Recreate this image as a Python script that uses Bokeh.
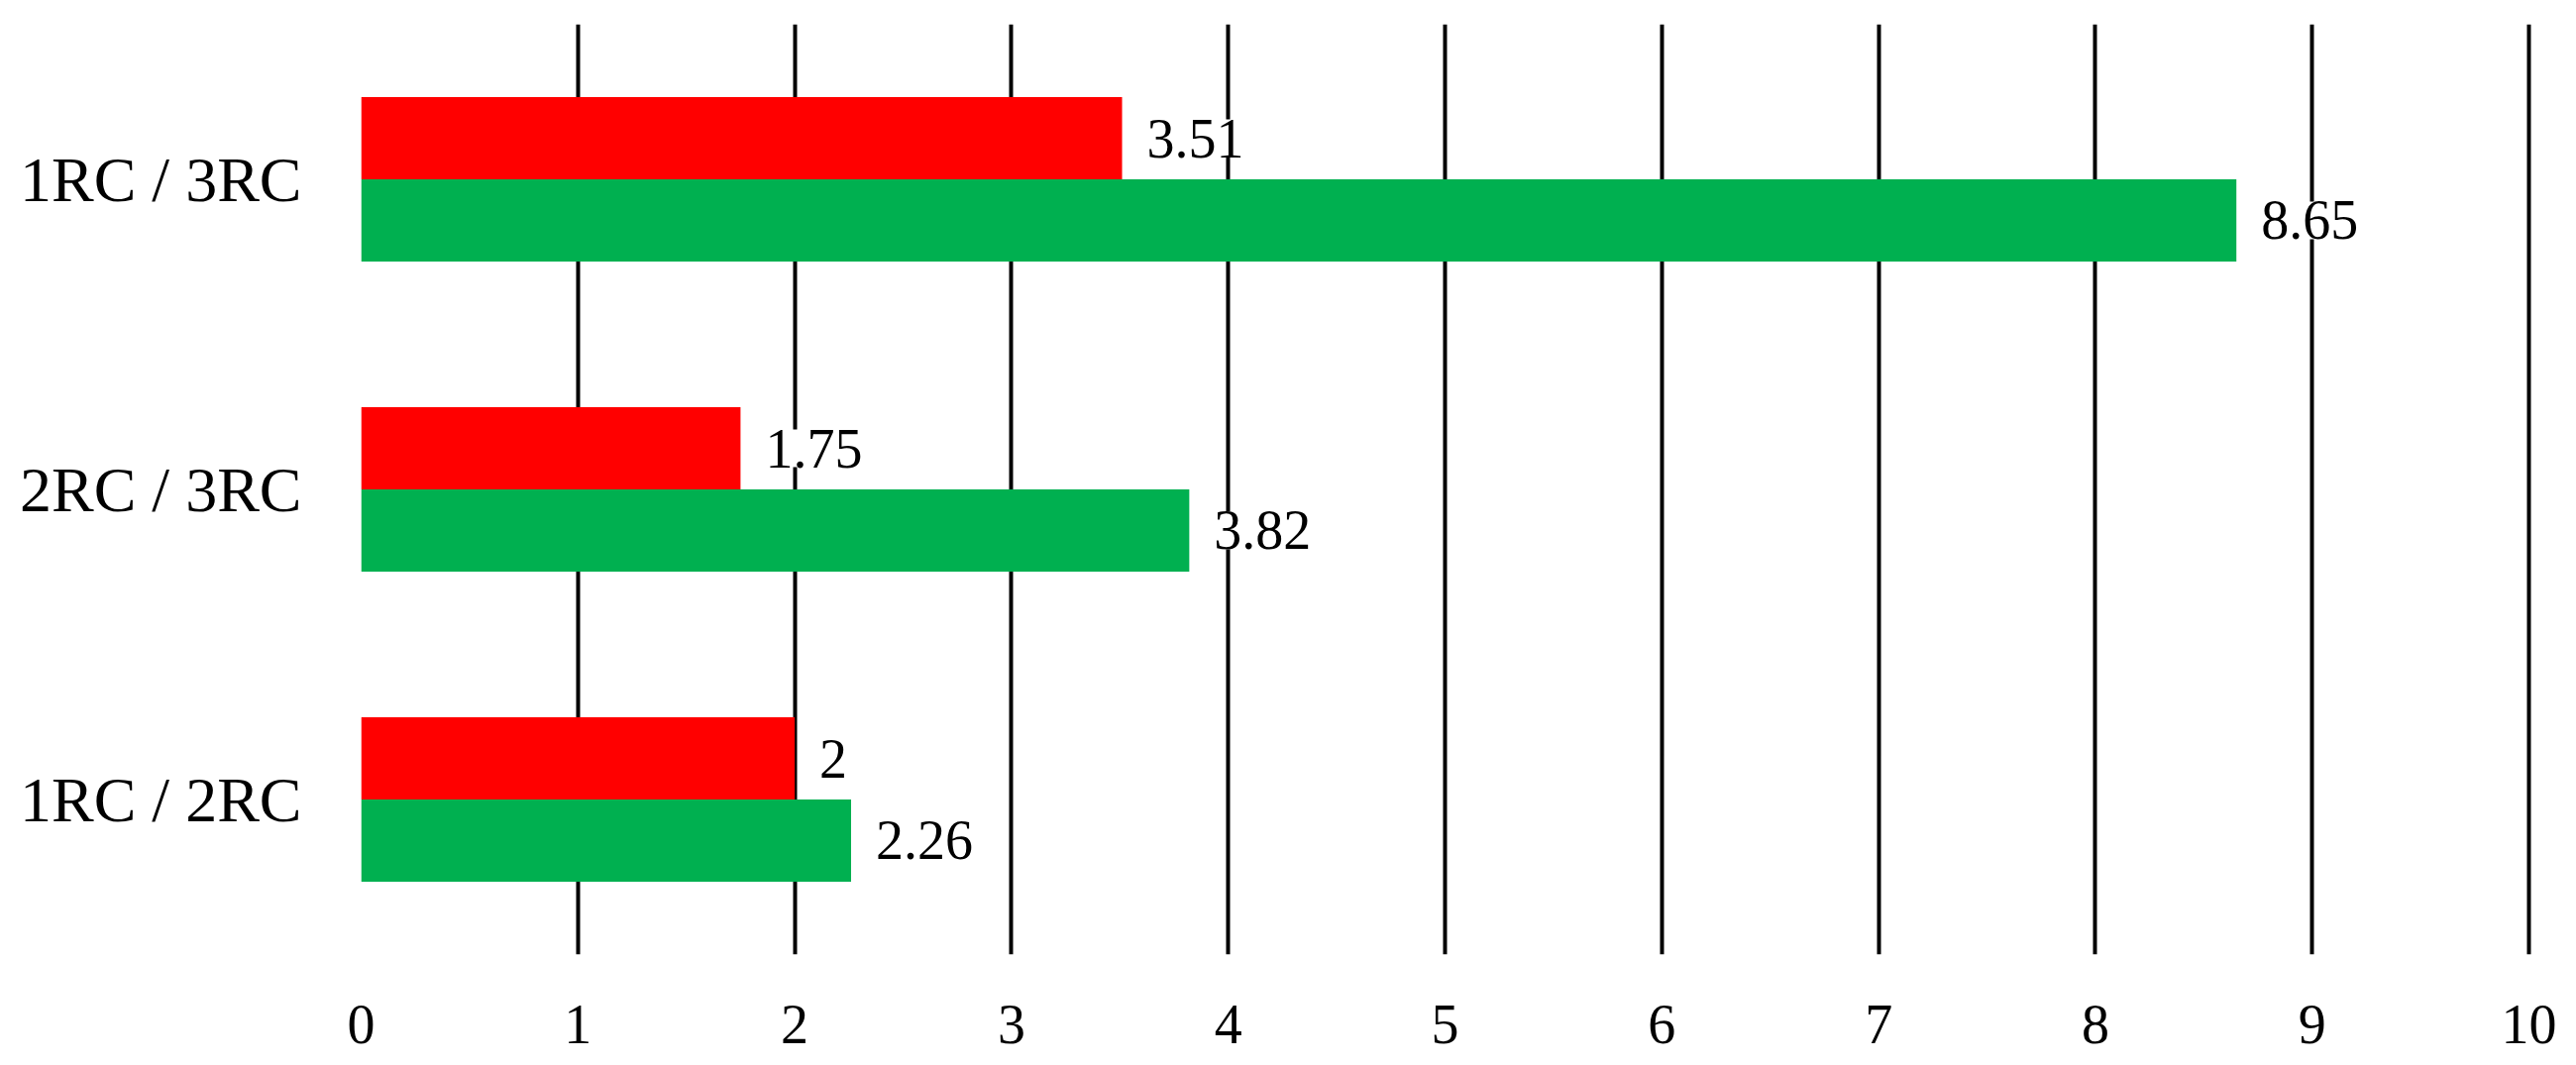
from bokeh.plotting import figure
from bokeh.models import FactorRange, Range1d, ColumnDataSource, LabelSet, FixedTicker
from bokeh.transform import dodge
from bokeh.embed import file_html
from bokeh.resources import INLINE

categories = ["1RC / 2RC", "2RC / 3RC", "1RC / 3RC"]
red_values = [2, 1.75, 3.51]
green_values = [2.26, 3.82, 8.65]
red_labels = ["2", "1.75", "3.51"]
green_labels = ["2.26", "3.82", "8.65"]
x_ticks = [0, 1, 2, 3, 4, 5, 6, 7, 8, 9, 10]

RED = "#FF0000"
GREEN = "#00B050"
FONT = "Liberation Serif"

src_red = ColumnDataSource(dict(cat=categories, val=red_values, lab=red_labels))
src_green = ColumnDataSource(dict(cat=categories, val=green_values, lab=green_labels))

p = figure(
    width=2584, height=1074,
    y_range=FactorRange(*categories, range_padding=0),
    x_range=Range1d(0, 10.1),
    output_backend="svg", toolbar_location=None,
    min_border_left=364, min_border_right=10,
    min_border_top=24, min_border_bottom=111,
)
p.outline_line_color = None
p.background_fill_color = "white"
p.border_fill_color = "white"

bar_h = 0.265
off = bar_h / 2

p.hbar(y=dodge("cat", off, range=p.y_range), right="val", left=0, height=bar_h,
       source=src_red, fill_color=RED, line_color=None)
p.hbar(y=dodge("cat", -off, range=p.y_range), right="val", left=0, height=bar_h,
       source=src_green, fill_color=GREEN, line_color=None)

for src, o in ((src_red, off), (src_green, -off)):
    ls = LabelSet(x="val", y=dodge("cat", o, range=p.y_range), text="lab", source=src,
                  x_offset=25, text_baseline="middle", text_align="left",
                  text_font=FONT, text_font_size="56px", text_color="black",
                  background_fill_color="white")
    p.add_layout(ls)

# grid
p.ygrid.grid_line_color = None
p.xgrid.ticker = FixedTicker(ticks=x_ticks[1:])
p.xgrid.grid_line_color = "black"
p.xgrid.grid_line_width = 4

# x axis
p.xaxis.ticker = FixedTicker(ticks=x_ticks)
p.xaxis.axis_line_color = None
p.xaxis.major_tick_line_color = None
p.xaxis.minor_tick_line_color = None
p.xaxis.major_label_text_font = FONT
p.xaxis.major_label_text_font_size = "56px"
p.xaxis.major_label_text_color = "black"
p.xaxis.major_label_standoff = 45

# y axis
p.yaxis.axis_line_color = None
p.yaxis.major_tick_line_color = None
p.yaxis.major_tick_out = 0
p.yaxis.major_tick_in = 0
p.yaxis.major_label_text_font = FONT
p.yaxis.major_label_text_font_size = "64px"
p.yaxis.major_label_text_color = "black"
p.yaxis.major_label_standoff = 60

open("out.html", "w").write(file_html(p, INLINE))
